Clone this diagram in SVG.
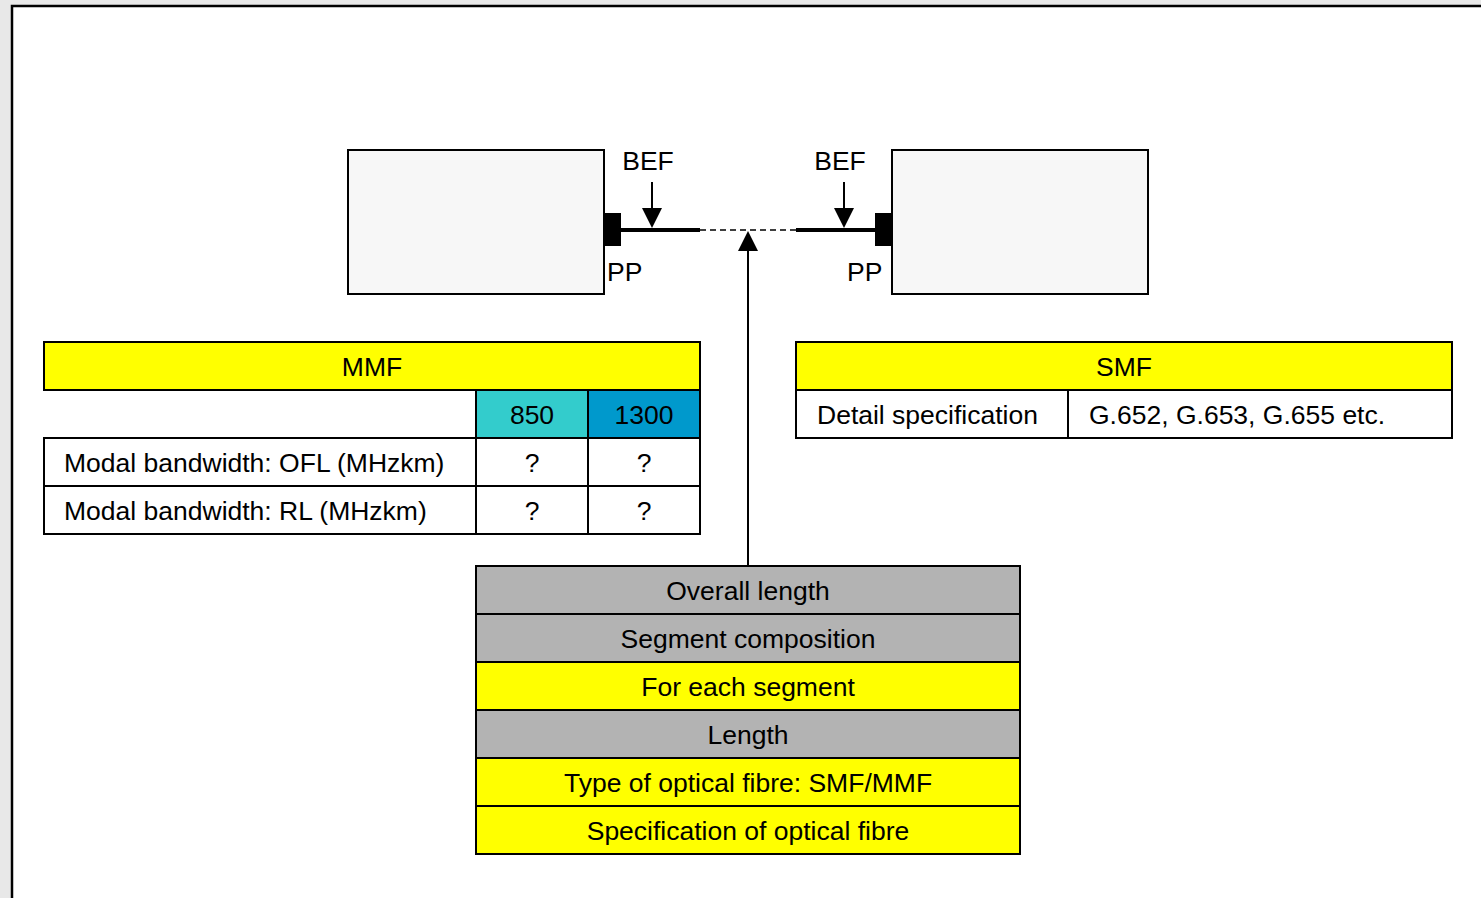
<svg xmlns="http://www.w3.org/2000/svg" width="1481" height="898" viewBox="0 0 1481 898">
<defs>
<style>
text{font-family:"Liberation Sans",Arial,sans-serif;font-size:26.5px;fill:#000}
.c{text-anchor:middle}
.cell{stroke:#000;stroke-width:2}
.y{fill:#ffff00}
.g{fill:#b3b3b3}
.w{fill:#fff}
.box{fill:#f7f7f7;stroke:#000;stroke-width:2}
</style>
</defs>
<rect x="0" y="0" width="1481" height="898" fill="#e8e8e8"/>
<rect x="12" y="6" width="1500" height="1000" fill="#fff" stroke="#000" stroke-width="2.5"/>

<g id="node-left-device"><rect class="box" x="348" y="150" width="256" height="144"/></g>
<g id="node-right-device"><rect class="box" x="892" y="150" width="256" height="144"/></g>

<g id="node-left-pp">
<rect x="604" y="213" width="17" height="33" fill="#000"/>
<text x="607" y="281">PP</text>
<text class="c" x="648" y="170">BEF</text>
</g>
<g id="node-right-pp">
<rect x="875" y="213" width="17" height="33" fill="#000"/>
<text x="847" y="281">PP</text>
<text class="c" x="840" y="170">BEF</text>
</g>

<g id="connectors" stroke="#000" fill="none">
<line x1="621" y1="230" x2="700" y2="230" stroke-width="4"/>
<line x1="796" y1="230" x2="875" y2="230" stroke-width="4"/>
<line x1="700" y1="230" x2="796" y2="230" stroke-width="1.5" stroke-dasharray="6,4"/>
<line x1="652" y1="182" x2="652" y2="208" stroke-width="2"/>
<path d="M642,208 L662,208 L652,228 Z" fill="#000" stroke="none"/>
<line x1="844" y1="182" x2="844" y2="208" stroke-width="2"/>
<path d="M834,208 L854,208 L844,228 Z" fill="#000" stroke="none"/>
<line x1="748" y1="566" x2="748" y2="250" stroke-width="2"/>
<path d="M738,251 L758,251 L748,231 Z" fill="#000" stroke="none"/>
</g>

<g id="node-mmf-table">
<rect class="cell y" x="44" y="342" width="656" height="48"/>
<text class="c" x="372" y="376">MMF</text>
<rect class="cell" x="476" y="390" width="112" height="48" fill="#33cccc"/>
<text class="c" x="532" y="424">850</text>
<rect class="cell" x="588" y="390" width="112" height="48" fill="#0099cc"/>
<text class="c" x="644" y="424">1300</text>
<rect class="cell w" x="44" y="438" width="432" height="48"/>
<text x="64" y="472">Modal bandwidth: OFL (MHzkm)</text>
<rect class="cell w" x="476" y="438" width="112" height="48"/>
<text class="c" x="532" y="472">?</text>
<rect class="cell w" x="588" y="438" width="112" height="48"/>
<text class="c" x="644" y="472">?</text>
<rect class="cell w" x="44" y="486" width="432" height="48"/>
<text x="64" y="520">Modal bandwidth: RL (MHzkm)</text>
<rect class="cell w" x="476" y="486" width="112" height="48"/>
<text class="c" x="532" y="520">?</text>
<rect class="cell w" x="588" y="486" width="112" height="48"/>
<text class="c" x="644" y="520">?</text>
</g>

<g id="node-smf-table">
<rect class="cell y" x="796" y="342" width="656" height="48"/>
<text class="c" x="1124" y="376">SMF</text>
<rect class="cell w" x="796" y="390" width="272" height="48"/>
<text x="817" y="424">Detail specification</text>
<rect class="cell w" x="1068" y="390" width="384" height="48"/>
<text x="1089" y="424">G.652, G.653, G.655 etc.</text>
</g>

<g id="node-segment-table">
<rect class="cell g" x="476" y="566" width="544" height="48"/>
<text class="c" x="748" y="600">Overall length</text>
<rect class="cell g" x="476" y="614" width="544" height="48"/>
<text class="c" x="748" y="648">Segment composition</text>
<rect class="cell y" x="476" y="662" width="544" height="48"/>
<text class="c" x="748" y="696">For each segment</text>
<rect class="cell g" x="476" y="710" width="544" height="48"/>
<text class="c" x="748" y="744">Length</text>
<rect class="cell y" x="476" y="758" width="544" height="48"/>
<text class="c" x="748" y="792">Type of optical fibre: SMF/MMF</text>
<rect class="cell y" x="476" y="806" width="544" height="48"/>
<text class="c" x="748" y="840">Specification of optical fibre</text>
</g>
</svg>
